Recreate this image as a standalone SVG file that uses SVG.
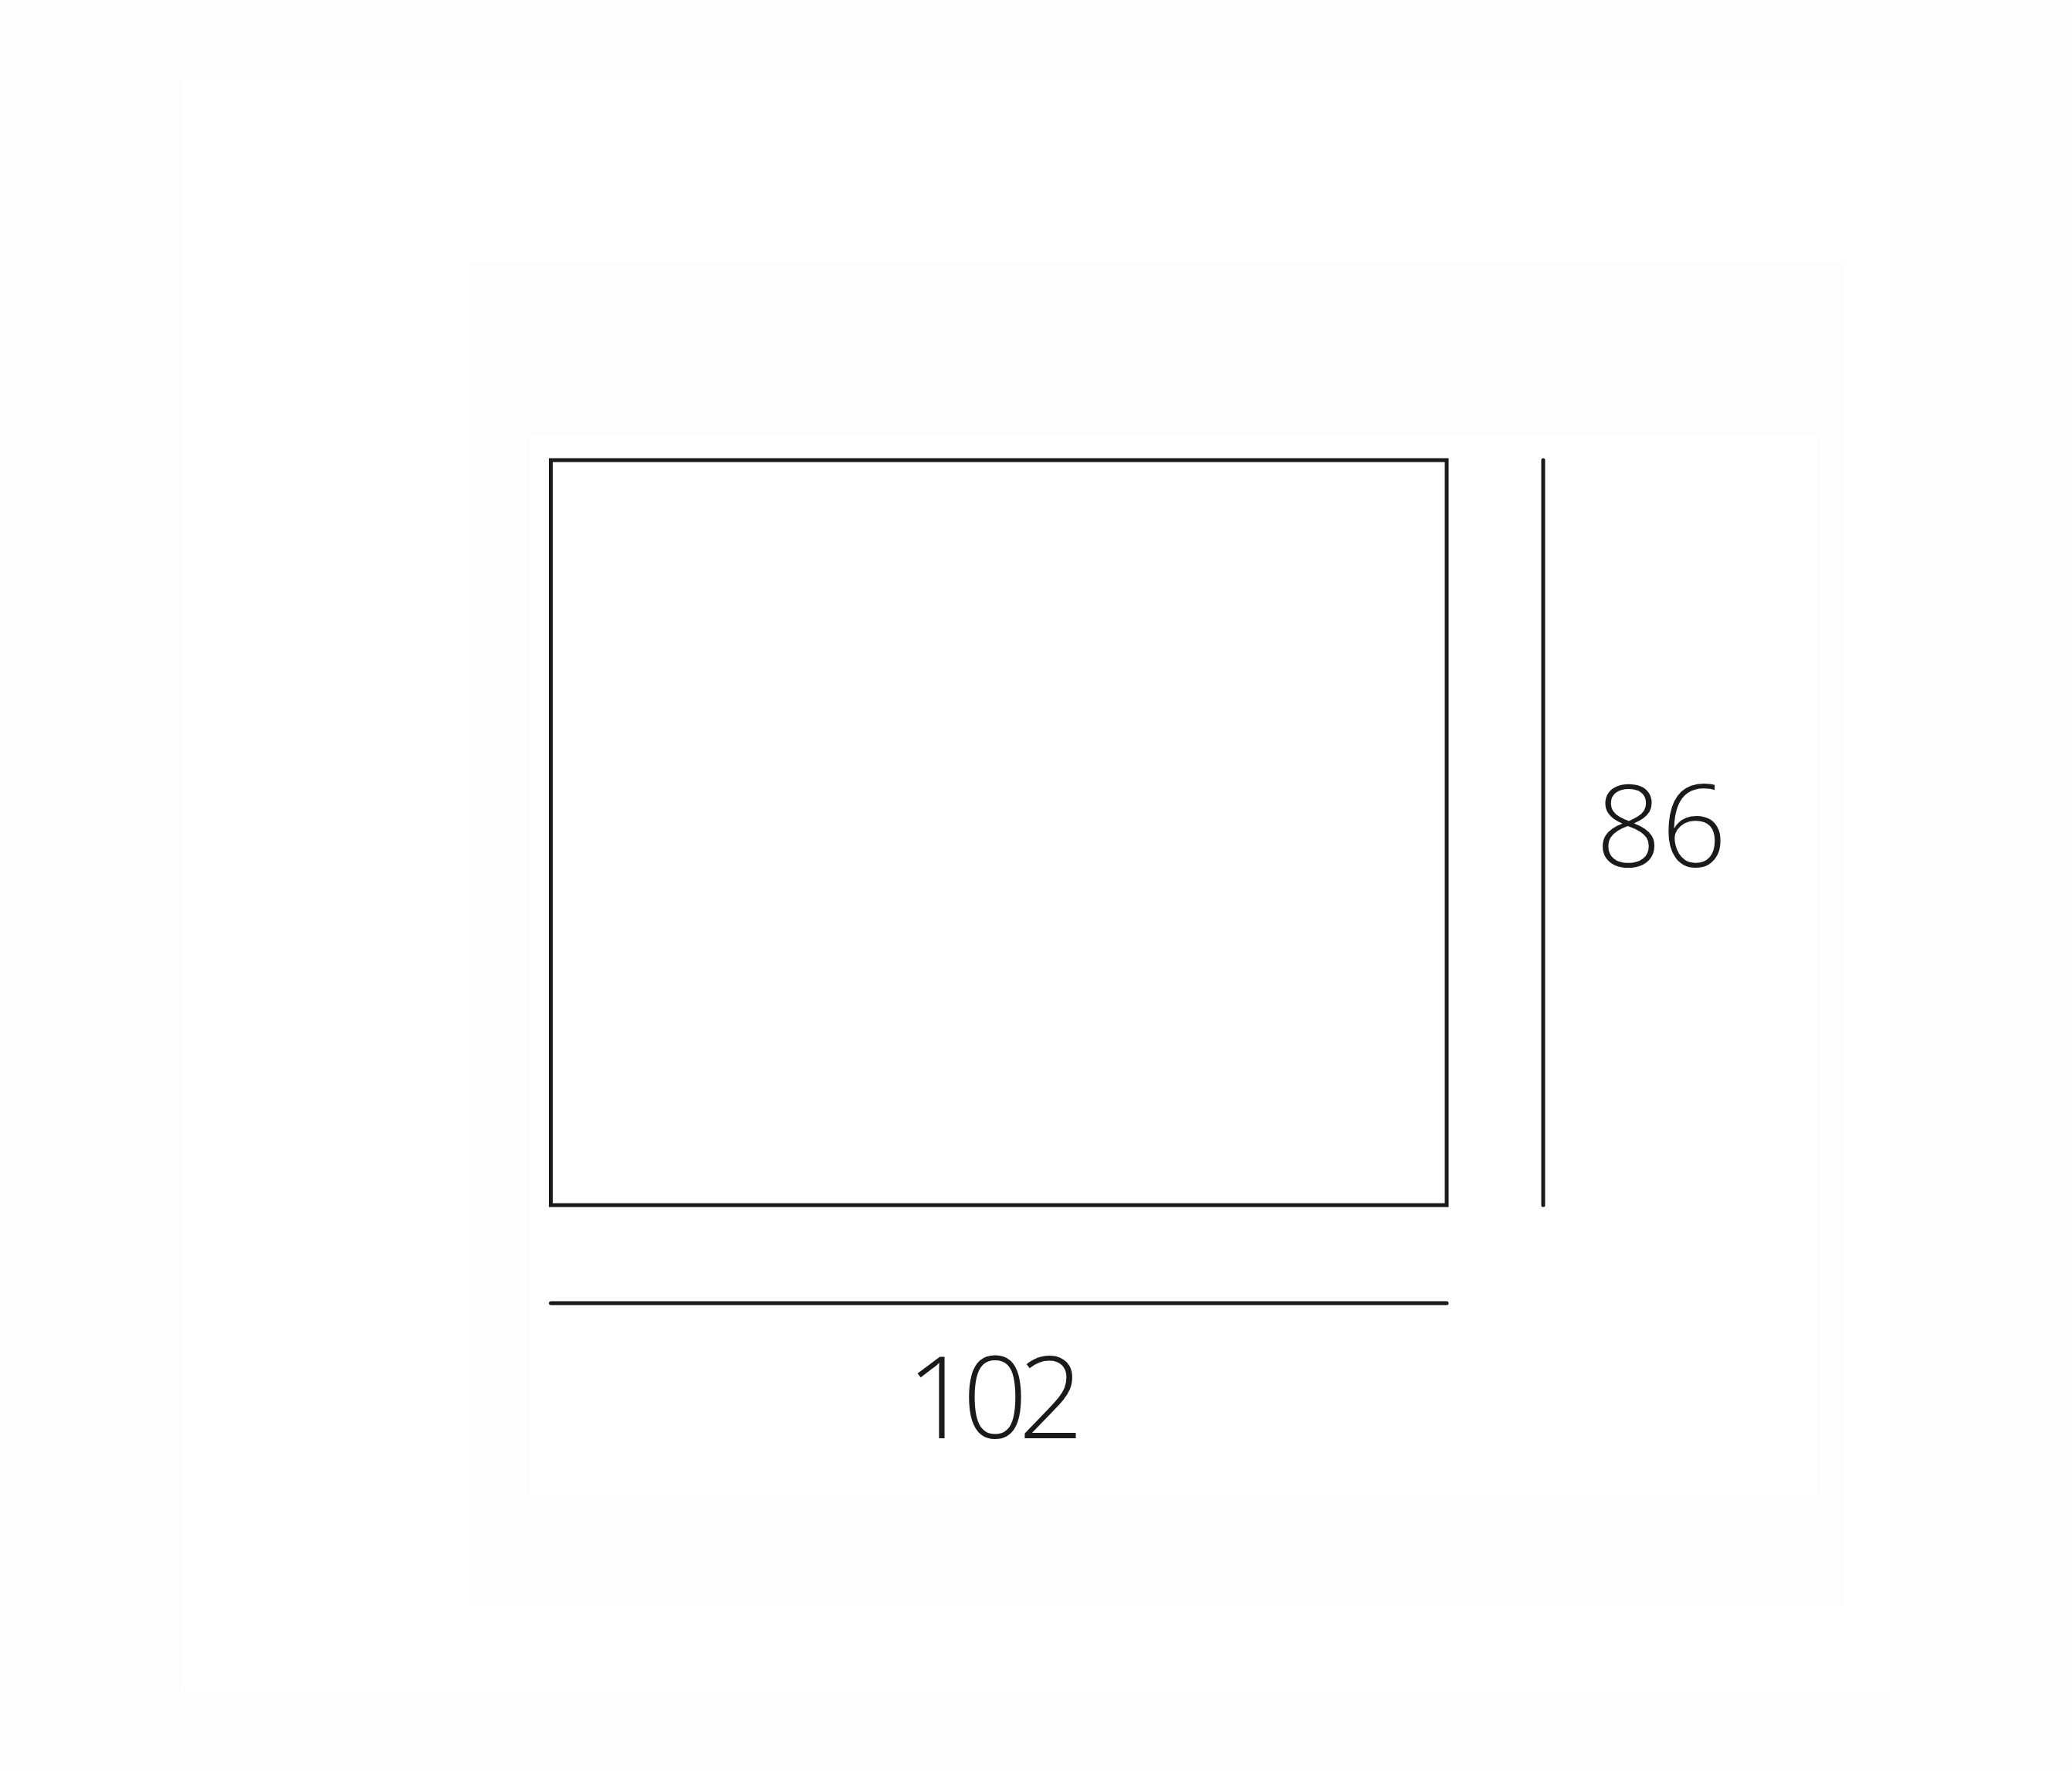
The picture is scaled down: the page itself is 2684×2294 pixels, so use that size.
<svg xmlns="http://www.w3.org/2000/svg" width="2684" height="2294" viewBox="0 0 2684 2294">
<style>
.ln{stroke:#1a1a1a;stroke-width:5;fill:none;stroke-linecap:round}
.dim{font-family:"Open Sans",Lato,"Liberation Sans",sans-serif;font-weight:300;font-size:148px;fill:#1a1a1a;text-anchor:middle}
</style>
<rect x="0" y="0" width="2684" height="2294" fill="#fdfdfd"/>
<rect x="235" y="103" width="2213" height="2088" fill="#ffffff"/>
<rect x="608" y="341" width="1780" height="1739" fill="#fdfdfd"/>
<rect x="686" y="565" width="1668" height="1369" fill="#ffffff"/>
<g id="panel">
<rect class="ln" x="713.5" y="596" width="1160.5" height="965"/>
</g>
<g id="connectors">
<line class="ln" x1="1999" y1="596" x2="1999" y2="1561"/>
<line class="ln" x1="713.5" y1="1688" x2="1874" y2="1688"/>
</g>
<g id="label-height"><text class="dim" x="2152" y="1123">86</text></g>
<g id="label-width"><text class="dim" x="1283" y="1863" letter-spacing="-12">102</text></g>
</svg>
